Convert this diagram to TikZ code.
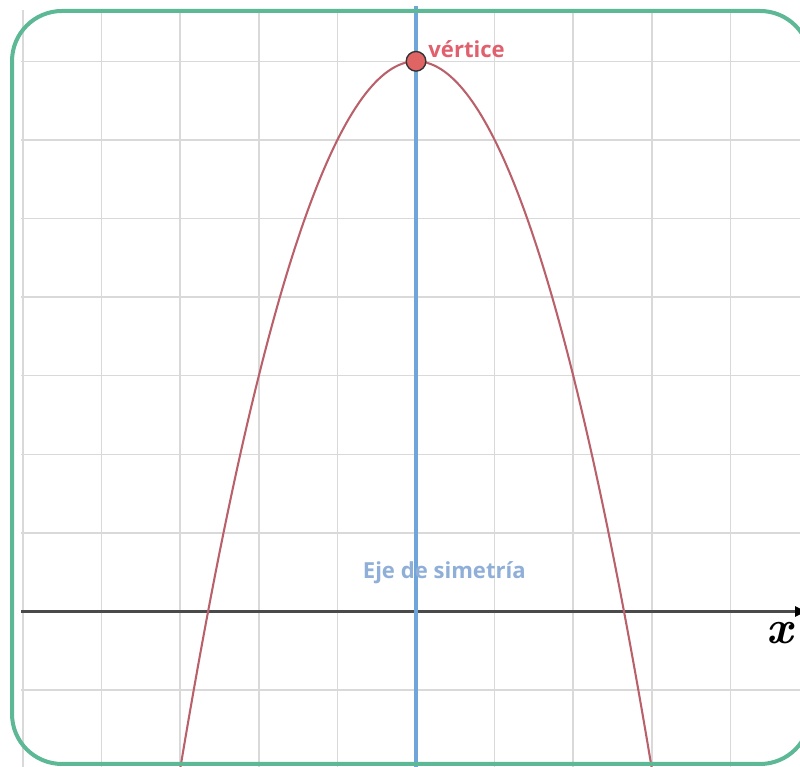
\documentclass[tikz,border=0pt]{standalone}
\usepackage{fontspec}
\setsansfont{Open Sans}
\usetikzlibrary{arrows.meta}
\definecolor{framegreen}{HTML}{5DB896}
\definecolor{gridgray}{HTML}{D9D9D9}
\definecolor{axisgray}{HTML}{4A4A4A}
\definecolor{symblue}{HTML}{6FA5D9}
\definecolor{symtext}{HTML}{8FAFD8}
\definecolor{curvered}{HTML}{B9606A}
\definecolor{dotred}{HTML}{E06464}
\definecolor{vtext}{HTML}{E0606E}
\tikzset{
  gridline/.style={draw=gridgray, line width=0.55pt},
  frame/.style={draw=framegreen, line width=1.45pt, rounded corners=0.636cm},
  labeltext/.style={font=\sffamily\bfseries\fontsize{8}{9}\selectfont, inner sep=0pt},
  axislabel/.style={font=\rmfamily\bfseries\itshape\fontsize{17}{20}\selectfont, inner sep=0pt},
}
\begin{document}
\begin{tikzpicture}
\useasboundingbox (-5.293,-1.966) rectangle (4.885,7.780);
% grid
\begin{scope}
  \clip (-5.025,-2.1) rectangle (5.2,7.64);
  \foreach \i in {-5,...,5} \draw[gridline] (\i,-2.1) -- (\i,7.7);
  \foreach \j in {-1,...,7} \draw[gridline] (-5.1,\j) -- (5.2,\j);
  % x axis
  \coordinate (xa) at (-5.1,0);
  \coordinate (xb) at (5.0,0);
  \draw[axisgray, line width=0.85pt, -{Latex[length=5pt,width=4pt,black]}] (xa) -- (xb);
\end{scope}
% symmetry axis
\coordinate (st) at (0,7.7);
\coordinate (sb) at (0,-2.1);
\draw[symblue, line width=1.4pt] (st) -- (sb);
% parabola
\draw[curvered, line width=0.75pt, domain=-3.05:3.05, samples=150, smooth] plot (\x,{7-\x*\x});
% vertex
\node[circle, fill=dotred, draw=black!80, line width=0.5pt, minimum size=0.25cm, inner sep=0pt] (v) at (0,7) {};
\node[labeltext, text=vtext, anchor=base west] (vl) at (0.15,7.05) {vértice};
\node[labeltext, text=symtext] (el) at (0.36,0.5) {Eje de simetría};
\node[axislabel] (xl) at (4.62,-0.27) {x};
% frame
\draw[frame] (-5.140,-1.940) rectangle (5.013,7.640);
\end{tikzpicture}
\end{document}
